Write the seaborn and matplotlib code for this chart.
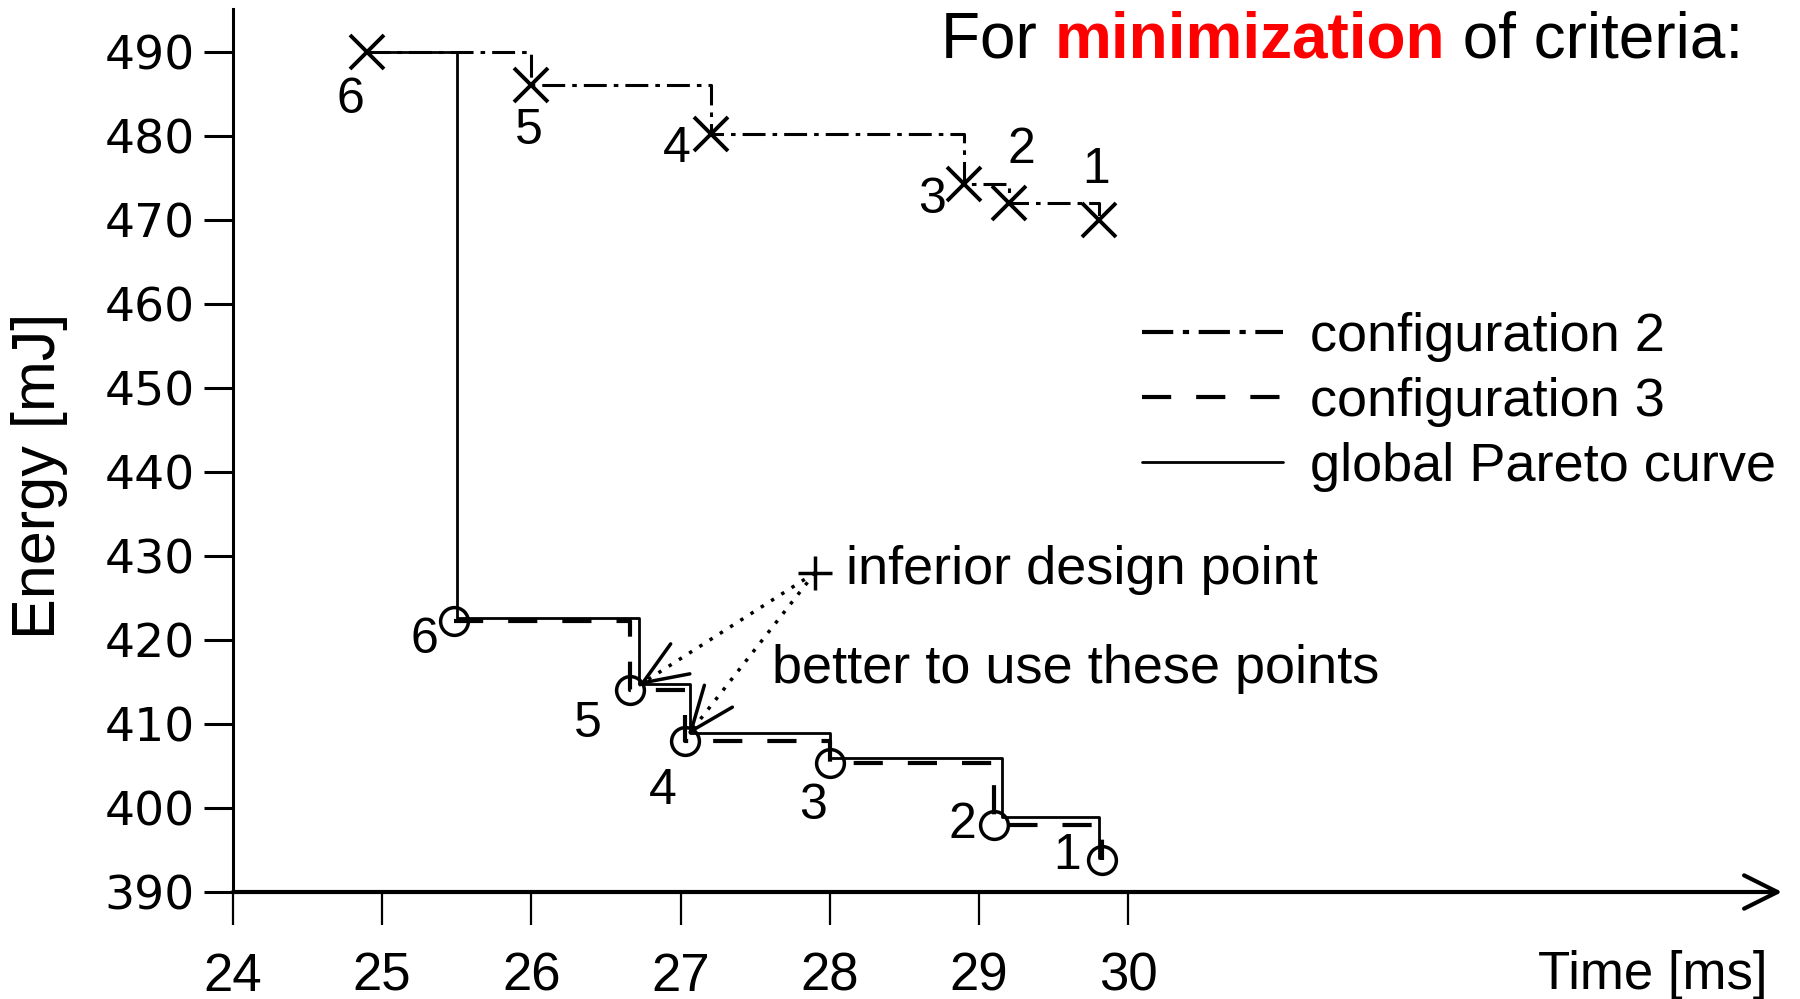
import pandas as pd
import matplotlib.pyplot as plt
import seaborn as sns
from matplotlib.lines import Line2D

# configuration 2 (crosses)
t_cfg2 = [24.9, 26.0, 27.2, 28.9, 29.2, 29.8]
e_cfg2 = [490.0, 486.0, 480.2, 474.3, 472.0, 470.0]
# configuration 3 (circles)
t_cfg3 = [25.48, 26.66, 27.03, 28.0, 29.1, 29.82]
e_cfg3 = [422.2, 414.0, 408.0, 405.4, 398.0, 393.8]
# global Pareto curve
t_pareto = [24.9, 25.5, 26.72, 27.06, 28.0, 29.15, 29.8]
e_pareto = [490.0, 422.6, 414.8, 408.9, 405.9, 398.9, 394.0]
point_ids = ['6', '5', '4', '3', '2', '1']

# inferior design point
t_inferior = [27.9]
e_inferior = [428.0]

x_ticks = [24, 25, 26, 27, 28, 29, 30]
y_ticks = [390, 400, 410, 420, 430, 440, 450, 460, 470, 480, 490]

cfg2 = pd.DataFrame({'t': t_cfg2, 'e': e_cfg2})
cfg3 = pd.DataFrame({'t': t_cfg3, 'e': e_cfg3})
pareto = pd.DataFrame({'t': t_pareto, 'e': e_pareto})

sns.set_style('ticks')
plt.rcParams['font.family'] = ['Liberation Sans', 'DejaVu Sans']
plt.rcParams['text.color'] = 'black'
plt.rcParams['axes.labelcolor'] = 'black'
plt.rcParams['xtick.color'] = 'black'
plt.rcParams['ytick.color'] = 'black'
plt.rcParams['axes.edgecolor'] = 'black'

fig = plt.figure(figsize=(18, 9.99), dpi=100)
ax = fig.add_axes([0.1294, 0.1071, 0.8623, 0.8839])

dashdot = (0, (7.5, 2.3, 1.5, 2.3))
dashed = (0, (7, 6))

sns.lineplot(data=pareto, x='t', y='e', ax=ax, color='k', lw=2, estimator=None,
             sort=False, drawstyle='steps-post', legend=False)
sns.lineplot(data=cfg3, x='t', y='e', ax=ax, color='k', lw=3, ls=dashed,
             estimator=None, sort=False, drawstyle='steps-post', legend=False,
             marker='o', markersize=20, markerfacecolor='none',
             markeredgecolor='k', markeredgewidth=2.5)
sns.lineplot(data=cfg2, x='t', y='e', ax=ax, color='k', lw=2.2, ls=dashdot,
             estimator=None, sort=False, drawstyle='steps-post', legend=False,
             marker='x', markersize=24, markeredgecolor='k', markeredgewidth=2.8)
sns.lineplot(x=t_inferior, y=e_inferior, ax=ax, color='k', lw=0, marker='+',
             markersize=24, markeredgecolor='k', markeredgewidth=2.5,
             estimator=None, legend=False)

# point numbers (offsets in points)
off_cfg2 = [(-12, -35), (-2, -33), (-24, -11), (-23, -12), (9, 38), (-2, 36)]
off_cfg3 = [(-21, -13), (-30, -24), (-16, -36), (-12, -31), (-23, 0), (-25, 3)]
for lab, x, y, o in zip(point_ids, t_cfg2, e_cfg2, off_cfg2):
    ax.annotate(lab, (x, y), xytext=o, textcoords='offset points',
                ha='center', va='center', fontsize=36)
for lab, x, y, o in zip(point_ids, t_cfg3, e_cfg3, off_cfg3):
    ax.annotate(lab, (x, y), xytext=o, textcoords='offset points',
                ha='center', va='center', fontsize=36)

# dotted arrows from the inferior point
for tx, ty in [(26.72, 414.6), (27.05, 408.7)]:
    sx, sy = t_inferior[0], e_inferior[0]
    ax.plot([sx, tx], [sy, ty], color='k', lw=2.5, ls=(0, (1, 2.5)))
    ax.annotate('', xy=(tx, ty), xytext=(tx + (sx - tx) * 0.02, ty + (sy - ty) * 0.02),
                arrowprops=dict(arrowstyle='->,head_length=1.0,head_width=0.4',
                                lw=2.5, color='k', mutation_scale=32, shrinkA=0, shrinkB=0))

ax.text(28.11, 428.3, 'inferior design point', fontsize=39, va='center', ha='left')
ax.text(27.61, 416.5, 'better to use these points', fontsize=39, va='center', ha='left')

ax.set_xlim(24, 34.4)
ax.set_ylim(390, 495.1)
ax.set_xticks(x_ticks)
ax.set_yticks(y_ticks)
ax.set_xlabel('')
ax.set_ylabel('')
for s in ['top', 'right', 'bottom']:
    ax.spines[s].set_visible(False)
ax.spines['left'].set_linewidth(2.2)
ax.tick_params(axis='y', direction='out', length=21, width=2.2, pad=6.5, labelsize=34)
ax.tick_params(axis='x', direction='out', length=24, width=1.6, pad=19, labelsize=38)
for lbl in ax.get_yticklabels():
    lbl.set_fontfamily('DejaVu Sans')

# x axis with arrow
ax.annotate('', xy=(34.38, 390), xytext=(24, 390),
            arrowprops=dict(arrowstyle='->,head_length=0.6,head_width=0.3', lw=3,
                            color='k', mutation_scale=40, shrinkA=0, shrinkB=0),
            annotation_clip=False)

ax.text(0.989, -0.094, 'Time [ms]', transform=ax.transAxes, fontsize=38,
        ha='right', va='center')
fig.text(40 / 1800, 1 - 476 / 999, 'Energy [mJ]', rotation=90, fontsize=44,
         ha='center', va='center')

# title in three colours
t1 = fig.text(941 / 1800, 1 - 40 / 999, 'For ', fontsize=46, va='center', ha='left')
t2 = ax.annotate('minimization', xy=(1, 0), xycoords=t1, va='bottom', ha='left',
                 fontsize=46, color='red', fontweight='bold')
ax.annotate(' of criteria:', xy=(1, 0), xycoords=t2, va='bottom', ha='left',
            fontsize=46)

handles = [Line2D([], [], color='k', lw=3, ls=dashdot),
           Line2D([], [], color='k', lw=3, ls=dashed),
           Line2D([], [], color='k', lw=2)]
fig.legend(handles, ['configuration 2', 'configuration 3', 'global Pareto curve'],
           loc='upper left', bbox_to_anchor=(1142 / 1800, 1 - 312 / 999),
           frameon=False, fontsize=39, handlelength=2.6, handletextpad=0.5,
           labelspacing=0.28, borderpad=0, borderaxespad=0)

fig.savefig('out.png', dpi=100)
